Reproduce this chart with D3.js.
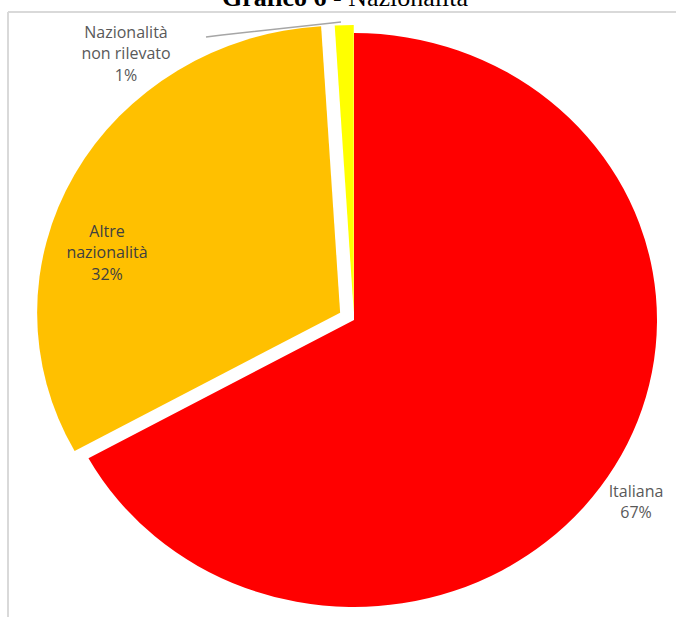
<!DOCTYPE html>
<html>
<head>
<meta charset="utf-8">
<script src="https://cdn.jsdelivr.net/npm/d3@7"></script>
<style>
  html, body { margin: 0; padding: 0; background: #ffffff; }
  svg { display: block; }
</style>
</head>
<body>
<svg id="chart" width="676" height="617"></svg>
<script>
// Nationality breakdown (percent)
const categories = ["Italiana", "Altre nazionalità", "Nazionalità non rilevato"];
const values = [67, 32, 1];
const labelLines = [["Italiana", "67%"], ["Altre", "nazionalità", "32%"], ["Nazionalità", "non rilevato", "1%"]];
const colors = ["#FF0000", "#FFC000", "#FFFF00"];
const explode = [0, 15, 8];

const svg = d3.select("#chart");
const W = 676, H = 617;

// frame lines
svg.append("line").attr("x1", 8).attr("x2", W).attr("y1", 12).attr("y2", 12)
  .attr("stroke", "#d9d9d9").attr("stroke-width", 2);
svg.append("line").attr("x1", 8).attr("x2", 8).attr("y1", 12).attr("y2", H)
  .attr("stroke", "#d9d9d9").attr("stroke-width", 2);

// title (partly above the top edge)
const title = svg.append("text").attr("x", 345).attr("y", 6)
  .attr("text-anchor", "middle")
  .style("font-family", "'Liberation Serif', 'DejaVu Serif', serif")
  .style("font-size", "26px").attr("fill", "#000");
title.append("tspan").style("font-weight", "bold").text("Grafico 6");
title.append("tspan").text(" - Nazionalità");

const cx = 354, cy = 320, R = 287, sx = 303 / 287;

const pie = d3.pie().sort(null).value(d => d);
const arcs = pie(values);
const arc = d3.arc().innerRadius(0).outerRadius(R);

const g = svg.append("g").attr("transform", `translate(${cx},${cy}) scale(${sx},1)`);

g.selectAll("path").data(arcs).join("path")
  .attr("d", arc)
  .attr("fill", (d, i) => colors[i])
  .attr("transform", (d, i) => {
    const a = (d.startAngle + d.endAngle) / 2;
    return `translate(${explode[i] * Math.sin(a)},${-explode[i] * Math.cos(a)})`;
  });

// leader line for the small slice
svg.append("polyline")
  .attr("points", "206,37 222,35 341,22")
  .attr("fill", "none").attr("stroke", "#a6a6a6").attr("stroke-width", 1.5);

// data labels
const labelPos = [[636, 491], [107, 231], [126, 32]];
const labelColor = ["#595959", "#404040", "#595959"];
const lineH = 21.5;
labelLines.forEach((lines, i) => {
  const t = svg.append("text")
    .attr("text-anchor", "middle")
    .style("font-family", "'Open Sans', Lato, sans-serif")
    .style("font-size", "16px")
    .attr("fill", labelColor[i]);
  lines.forEach((s, k) => {
    t.append("tspan").attr("x", labelPos[i][0])
      .attr("y", labelPos[i][1] + k * lineH)
      .attr("dy", "0.35em").text(s);
  });
});
</script>
</body>
</html>
